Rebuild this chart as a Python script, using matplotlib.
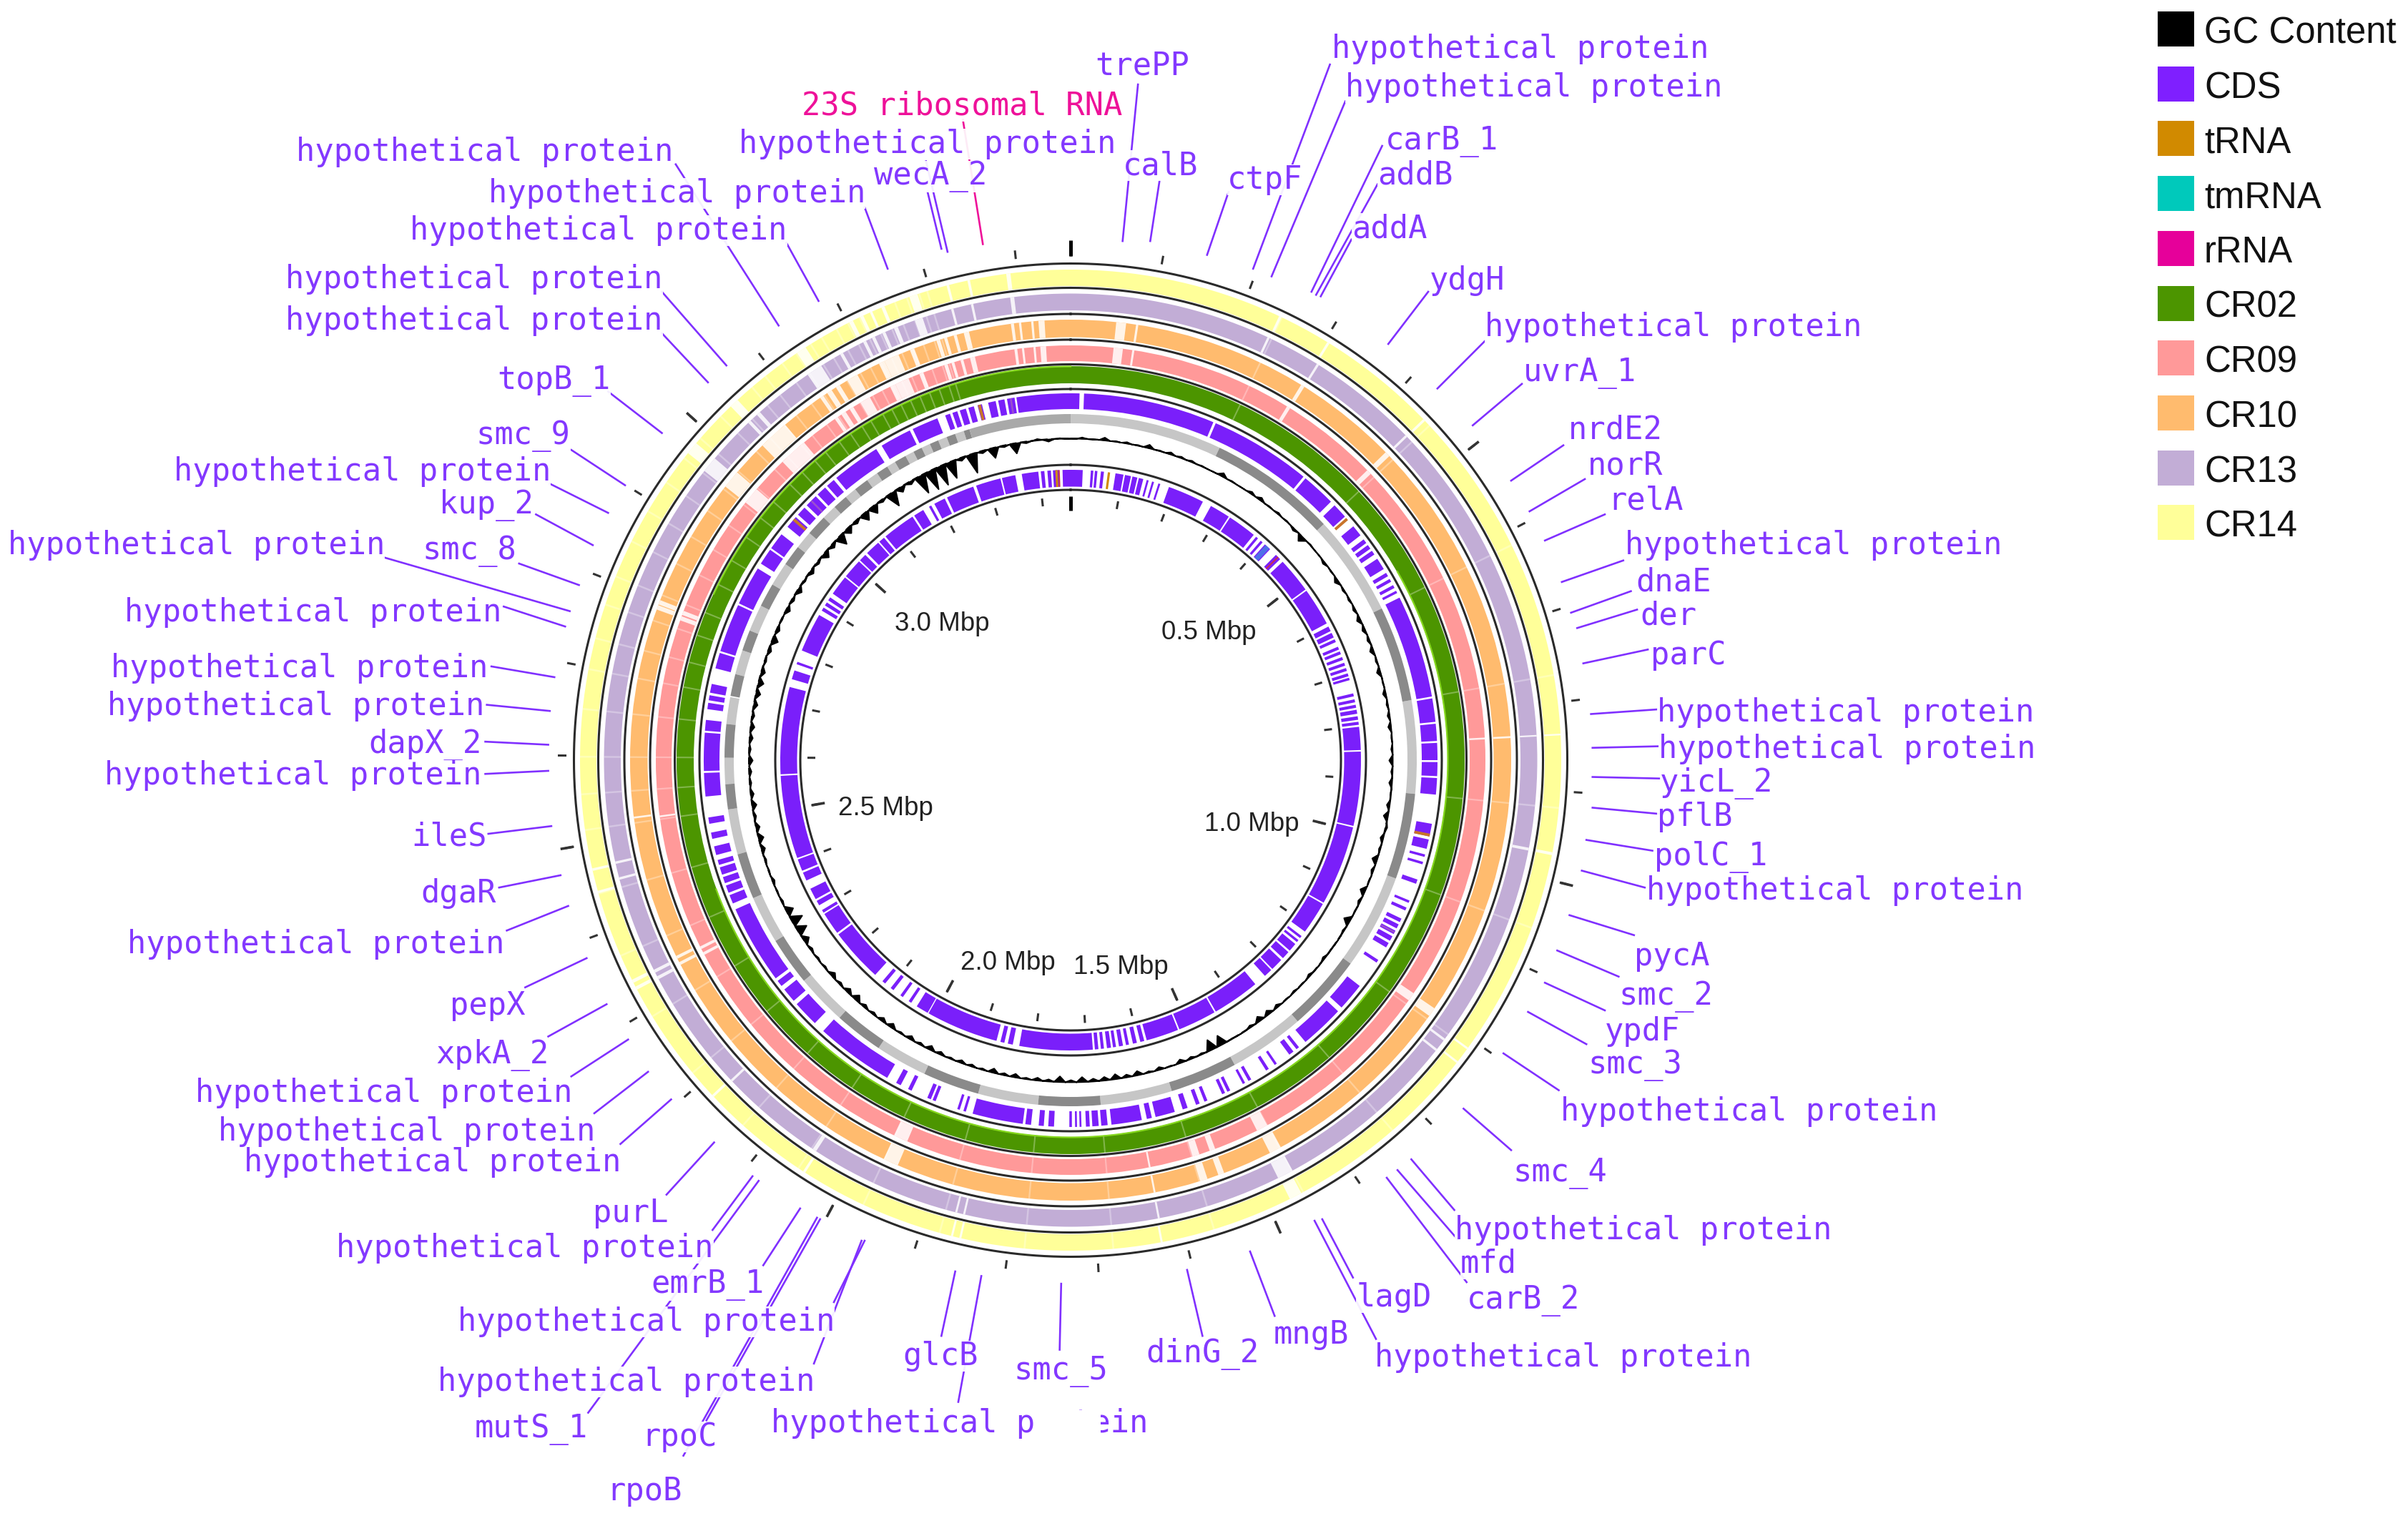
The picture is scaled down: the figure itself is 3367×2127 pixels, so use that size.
import numpy as np
import matplotlib
matplotlib.use('Agg')
import matplotlib.pyplot as plt
from matplotlib.patches import Rectangle

W, H = 3367, 2127
SHRINK = 3367 / 1568  # label layout below
CX, CY = 1497, 1063
RMAX = 800

GENOME_MBP = 3.46

legend_names = ['GC Content', 'CDS', 'tRNA', 'tmRNA', 'rRNA', 'CR02', 'CR09', 'CR10', 'CR13', 'CR14']
legend_colors = ['#000000', '#7f1fff', '#d18a00', '#00c9bb', '#e6009a', '#4c9500', '#ff9999', '#ffbb6e', '#c2add6', '#ffff99']

mbp_labels = ['0.5 Mbp', '1.0 Mbp', '1.5 Mbp', '2.0 Mbp', '2.5 Mbp', '3.0 Mbp']
mbp_xy = [(1690, 885), (1750, 1152), (1567, 1353), (1409, 1346), (1238, 1130), (1317, 872)]

# ring gaps: (centre deg, width deg)
cr14_gaps = [(25.3, .3), (31.7, .3), (46.1, .3), (87, .2), (101, .35), (126, .25), (128, .25), (152.7, 1.5), (169.3, .25),
             (193, .25), (194, .25), (212.9, .3), (226.8, .3), (242.3, .4), (243.2, .4), (254.4, .3), (257.1, .3),
             (309.5, 1.5), (316.7, 1.1), (326.7, 1.2), (333.4, .5), (334.8, .4), (336, .3), (337.5, .4), (341.3, 1),
             (345.5, .3), (348, .3), (352.7, .5)]
cr13_gaps = [(25.1, .3), (32, .3), (46, .3), (87, .2), (101, .35), (126.8, .3), (128.4, .3), (152.6, 2), (169.1, .25),
             (193.2, .25), (194.2, .25), (213.3, .5), (226.6, .3), (242.2, .4), (243.1, .4), (255.3, .3), (257.3, .3),
             (309.3, 2), (316.5, .4), (318, .5), (326.7, 2), (330.6, .4), (333.8, .4), (335, .4), (336.4, .4), (338, .5),
             (341, 1), (345.3, .3), (347.8, .3), (352.8, .5)]
cr10_gaps = [(6.6, 1.3), (8.7, .3), (31.8, .5), (46, .7), (87, .25), (124.9, 1.2), (152.3, 1.6), (160, .8), (162.4, 1),
             (169, .25), (204.1, 2), (242.5, .4), (243.4, .4), (262.5, .25), (290.3, .6), (291, .6),
             (309.6, 2.4), (317.6, 4), (325.6, .5), (326.8, .7), (328.1, .6), (330.3, 1.5), (334.6, .8), (336, 2),
             (338.9, .6), (342.5, .5), (343.5, .4), (344.8, .4), (346.3, .7), (352.4, .4), (353.4, .3), (355, .3), (356.2, .8)]
cr09_gaps = [(6.6, 1.3), (8.7, .3), (31.7, .5), (46, .7), (87, .25), (124.8, 1.2), (152.5, 1.6), (160, .8), (162.4, 1),
             (169, .25), (204.2, 2), (242.2, .4), (243.1, .4), (262.2, .25), (290, .6), (290.8, .6),
             (309.6, 2.4), (318, 4), (325.6, .5), (326.8, .7), (328.1, .6), (330.3, 1.5), (334.6, .8), (336, 2),
             (338.9, .6), (342.5, .5), (343.5, .4), (344.8, .4), (346.3, .7), (352.4, .4), (353.4, .3), (355, .3), (356.2, .8)]

# genes on the outer CDS ring (start deg, end deg)
cds_outer = [(0, 1.4), (2.1, 22.9), (23.3, 39.4), (39.8, 45.2), (46, 48.4), (50.4, 52.2), (53, 53.7), (54.1, 54.8), (55.2, 55.9),
             (56.7, 58.6), (59.3, 59.9), (60.4, 60.9), (61.5, 62), (62.5, 62.9), (63.7, 80), (80.3, 84), (84.3, 87), (87.3, 90),
             (90.3, 92.5), (92.8, 95.4), (100, 102), (102.5, 104), (104.9, 105.3), (106.1, 106.5), (109, 109.7), (112.5, 112.9),
             (113.7, 114.2), (115.6, 116.2), (116.6, 117.3), (117.7, 118.3), (118.7, 119.5), (119.9, 120.7), (123, 123.5),
             (128, 132.4), (133.2, 140.2), (141.5, 142), (142.6, 143.4), (145.8, 146.2), (147.3, 147.8), (150.5, 151), (151.6, 152),
             (154.2, 154.7), (155.1, 155.6), (158.1, 158.6), (159.4, 160), (161.4, 162.2), (163.5, 166.6), (167.2, 168), (168.8, 173.6),
             (174.2, 175.2), (175.6, 176.6), (177, 177.6), (178.3, 178.6), (179, 179.3), (179.8, 180.2), (182.6, 183.5), (184.2, 185),
             (186.2, 187.1), (187.5, 195.5), (196.6, 197), (197.6, 198), (201.6, 202.1), (202.4, 203), (205.7, 206.3), (207.6, 208.4),
             (210, 222.4), (224.2, 228.3), (229, 231.3), (232, 233), (233.5, 246), (247, 248.4), (248.8, 250), (250.4, 251.4), (251.8, 253),
             (253.4, 254.2), (255, 256.4), (257.6, 258.6), (260, 261), (264.3, 268), (268.3, 274.3), (274.6, 276.3), (278, 279), (279.4, 280.2),
             (280.6, 282), (284.5, 287), (287.3, 295), (295.3, 301.5), (302.4, 305), (305.3, 308), (309.5, 311.5), (312, 313.5), (314, 316),
             (316.4, 318), (318.4, 319.8), (320.3, 328), (329, 334), (334.5, 338.7), (340, 340.8), (341.2, 342), (342.4, 343.4), (343.8, 344.7),
             (345.3, 346), (347, 348.2), (348.6, 349.6), (350, 351.2), (351.5, 360)]
trna_outer = [48.9, 101.8, 311, 345.6]
cds_outer_faint = [315, 350.6, 118]

# genes on the inner CDS ring
cds_inner = [(0, 2.4), (4, 4.5), (4.8, 5.3), (6, 6.6), (8.9, 10.5), (10.8, 12), (12.3, 13.3), (13.6, 14.5), (15.2, 15.6), (16.3, 16.7),
             (17.6, 18), (19.8, 27.1), (28.9, 33), (33.3, 39.1), (39.7, 40.2), (40.9, 41.4), (42, 43.4), (45, 46.2), (46.9, 54), (54.3, 61.9),
             (62.6, 63.6), (64, 65), (65.4, 66), (67, 67.6), (68, 68.6), (69.2, 69.8), (70.4, 71), (71.5, 72.1), (72.6, 73.2), (73.5, 74),
             (76.7, 77.3), (77.9, 78.5), (79, 79.6), (80, 80.8), (81.3, 82), (82.4, 83), (83.4, 88), (88.3, 103.1), (103.4, 119.4), (119.7, 126.2),
             (127.3, 127.8), (128.3, 128.8), (129.3, 131), (131.4, 133), (133.5, 136), (136.3, 138), (140.5, 150), (150.3, 158), (158.3, 164.8),
             (165.3, 166.1), (166.8, 167.6), (168.4, 169), (169.6, 170.4), (171, 171.6), (172, 172.8), (173.4, 174), (174.5, 175.2), (175.6, 190.2),
             (191.5, 192.5), (193.2, 194), (194.8, 209.3), (209.5, 212), (213.3, 213.9), (215.3, 215.9), (217.6, 218.3), (219.7, 220.4),
             (222.3, 233.1), (233.5, 238), (238.3, 238.9), (240, 241), (241.4, 243.7), (245.5, 247.2), (247.6, 250), (250.3, 266.9), (267.2, 284.6),
             (286.2, 288), (289.3, 289.8), (292.2, 300), (301, 301.7), (302.2, 302.9), (303.4, 304.1), (305, 309), (309.3, 313.2), (313.5, 315),
             (315.5, 318.5), (318.8, 320), (320.4, 327), (327.4, 329.5), (330.8, 331.3), (332, 334.3), (334.8, 340.4), (341, 346), (346.3, 349),
             (350.3, 353.6), (354.1, 354.8), (355.4, 356.1), (356.5, 357.7), (358.4, 360)]
trna_inner = [7.6, 357.2]
rrna_inner = [45.6, 357.7]
tmrna_inner = [42.7]

# contig bar, changes at these angles
contigs_light = [(0, 25.5), (47, 64), (80, 95.6), (110, 126), (139, 151.7), (163, 175), (185.4, 195.5), (205, 213.7), (221.9, 230.4),
                 (238.5, 246.5), (254.2, 261.8), (266, 270.4), (276, 280.5), (284.4, 288.5), (292, 296.5), (300.5, 304.5), (308, 311),
                 (314.5, 317), (319.5, 321.5), (324, 326), (328, 329.5), (331.5, 333), (334.5, 336), (337.5, 339), (340.5, 342)]
contigs_dark = [(25.5, 47), (64, 80), (95.6, 110), (126, 139), (151.7, 163), (175, 185.4), (195.5, 205), (213.7, 221.9), (230.4, 238.5),
                (246.5, 254.2), (261.8, 266), (270.4, 276), (280.7, 284.4), (288.5, 292), (296.5, 300.5), (304.5, 308), (311, 314.5),
                (317, 319.5), (321.5, 324), (326, 328), (329.5, 331.5), (333, 334.5), (336, 337.5), (339, 340.5), (342, 343)]
contigs_blur = [(343, 360)]

# GC trace, one value every 2 degrees
gc_values = [0, 2, 0, 4, 1, 2, 1, 5, 1, 3, 2, 2, 1, 0, 5, 1, 0, 3, 4, 1, 2, 1, -3, -8, 1, 0, -3, -1, -5, -2, -2, -3, -5, -4, -3, -5, -2, -5, -1, -4,
             -2, -3, -4, -1, -2, -5, -2, -4, -1, -4, -6, 2, -4, -2, -7, -3, -1, -7, -3, -1, -9, -2, 0, -1, -3, 0, -3, -1, -2, -1, -4, -6, -7, -3, 0, -1,
             -14, -15, -2, -3, -5, -1, -4, -2, -6, -4, -7, -5, -4, -7, -3, -8, -3, -4, -2, -5, -3, -6, -2, -3, -4, -2, -4, -6, -3, -5, -2, -6, -5, -3,
             -4, -8, -6, -3, -6, -2, -2, -3, -8, -14, -16, -10, -2, -1, -3, -1, -2, -5, -7, -5, -3, -6, -4, -2, -3, -5, -2, -4, -5, -3, -5, -6, -7, -5,
             -2, -4, -8, -4, -1, -5, -3, -6, -2, -5, -3, -8, -5, -14, -8, -4, -11, -11, -3, -20, -7, -4, -26, -28, -28, -24, -4, -27, -3, -14, -2, -14,
             -2, 2, -3, 1]

gene_labels = [
    'hypothetical protein', 'hypothetical protein', 'hypothetical protein', 'hypothetical protein', 'hypothetical protein',
    'topB_1', 'smc_9', 'hypothetical protein', 'kup_2', 'hypothetical protein', 'smc_8', 'hypothetical protein',
    'hypothetical protein', 'hypothetical protein', 'dapX_2', 'hypothetical protein', 'ileS', 'dgaR', 'hypothetical protein',
    'pepX', 'xpkA_2', 'hypothetical protein', 'hypothetical protein', 'hypothetical protein', 'purL', 'hypothetical protein',
    'emrB_1', 'hypothetical protein', 'hypothetical protein', 'mutS_1', 'rpoC', 'rpoB', 'glcB', 'hypothetical protein', 'smc_5',
    'dinG_2', 'mngB', 'lagD', 'hypothetical protein', 'carB_2', 'mfd', 'hypothetical protein', 'smc_4', 'hypothetical protein',
    'smc_3', 'ypdF', 'smc_2', 'pycA', 'hypothetical protein', 'polC_1', 'pflB', 'yicL_2', 'hypothetical protein',
    'hypothetical protein', 'parC', 'der', 'dnaE', 'hypothetical protein', 'relA', 'norR', 'nrdE2', 'uvrA_1',
    'hypothetical protein', 'ydgH', 'addA', 'addB', 'carB_1', 'ctpF', 'hypothetical protein', 'hypothetical protein',
    'calB', 'trePP', 'hypothetical protein', 'wecA_2']

# left edge and middle of each gene label
label_xy = [
    (193, 99), (318, 126), (267, 150), (186, 182), (186, 209), (324, 248), (310, 284), (113, 307), (286, 329), (5, 355), (275, 359),
    (81, 399), (72, 435), (70, 460), (240, 485), (68, 505), (268, 545), (274, 582), (83, 615), (293, 655), (284, 687), (127, 712),
    (142, 737), (159, 757), (386, 790), (219, 813), (424, 837), (298, 861), (285, 900), (309, 931), (418, 936), (395, 971), (588, 883),
    (502, 927), (660, 893), (746, 882), (829, 869), (883, 845), (895, 884), (955, 847), (951, 823), (947, 801), (985, 764), (1016, 724),
    (1034, 694), (1045, 672), (1054, 649), (1064, 623), (1072, 580), (1077, 558), (1079, 532), (1081, 510), (1080, 488), (1079, 464),
    (1075, 427), (1068, 401), (1065, 379), (1058, 355), (1047, 326), (1034, 303), (1021, 280), (992, 243), (967, 213), (931, 183),
    (880, 149), (897, 114), (902, 92), (799, 117), (867, 32), (876, 57), (731, 108), (713, 43), (481, 94), (569, 115)]

# leader from near the label to near the ring
leader_xy = [
    (440, 107, 507, 212), (563, 135, 578, 175), (512, 158, 533, 196), (431, 190, 473, 238), (431, 217, 461, 249), (396, 255, 431, 282),
    (372, 293, 407, 316), (358, 315, 396, 334), (349, 335, 386, 355), (250, 363, 371, 398), (338, 367, 377, 381), (328, 395, 368, 408),
    (320, 434, 361, 441), (317, 459, 358, 463), (316, 483, 357, 485), (316, 504, 357, 502), (318, 543, 359, 538), (325, 578, 365, 570),
    (330, 606, 370, 590), (342, 643, 382, 624), (357, 675, 395, 654), (372, 701, 409, 677), (387, 725, 422, 698), (404, 745, 437, 716),
    (434, 778, 465, 744), (464, 801, 490, 766), (497, 824, 521, 787), (543, 848, 563, 808), (530, 888, 561, 808), (383, 920, 494, 769),
    (460, 925, 534, 794), (445, 948, 532, 793), (613, 870, 622, 828), (624, 913, 639, 831), (690, 879, 691, 836), (783, 870, 773, 827),
    (830, 857, 814, 815), (881, 832, 861, 794), (896, 872, 856, 795), (955, 835, 903, 767), (949, 807, 910, 762), (947, 788, 919, 755),
    (984, 749, 953, 722), (1015, 710, 979, 686), (1033, 680, 995, 659), (1045, 658, 1006, 640), (1054, 636, 1014, 619), (1064, 609, 1022, 596),
    (1071, 578, 1030, 567), (1076, 554, 1033, 547), (1080, 530, 1037, 526), (1081, 507, 1037, 506), (1080, 486, 1037, 487), (1079, 462, 1036, 465),
    (1073, 423, 1031, 432), (1066, 397, 1027, 409), (1062, 385, 1023, 399), (1057, 365, 1017, 379), (1045, 335, 1006, 352), (1032, 312, 996, 333),
    (1018, 290, 984, 313), (991, 250, 959, 277), (967, 222, 936, 253), (930, 190, 904, 224), (880, 156, 860, 193), (897, 120, 857, 192),
    (900, 95, 854, 190), (800, 125, 786, 166), (866, 42, 816, 175), (876, 66, 828, 180), (755, 118, 749, 157), (741, 55, 731, 157),
    (603, 105, 617, 164), (604, 125, 613, 162)]

plt.rcParams['font.family'] = ['Liberation Sans', 'DejaVu Sans']

fig = plt.figure(figsize=(W / 100, H / 100), dpi=100, facecolor='white')
ax = fig.add_axes([(CX - RMAX) / W, (H - CY - RMAX) / H, 2 * RMAX / W, 2 * RMAX / H], projection='polar')
ax.set_theta_zero_location('N')
ax.set_theta_direction(-1)
ax.set_rlim(0, RMAX)
ax.set_axis_off()


def rad(d):
    return np.deg2rad(np.asarray(d, dtype=float))


def ring(r0, r1, color):
    ax.bar(0, r1 - r0, width=2 * np.pi, bottom=r0, color=color, linewidth=0, zorder=1)


def gaps(r0, r1, items):
    ax.bar(rad([g[0] for g in items]), r1 - r0, width=rad([g[1] for g in items]), bottom=r0,
           color='white', linewidth=0, zorder=2, alpha=.85)


def arcs(r0, r1, items, color):
    starts = rad([s[0] for s in items])
    ends = rad([s[1] for s in items])
    ax.bar((starts + ends) / 2, r1 - r0, width=ends - starts, bottom=r0, color=color, linewidth=0, zorder=2)


def stripes(r0, r1, items, color, w=.45):
    ax.bar(rad(items), r1 - r0, width=np.deg2rad(w), bottom=r0, color=color, linewidth=0, zorder=3)


ring(663, 686, legend_colors[9])
gaps(663, 686, cr14_gaps)
ring(629, 652.5, legend_colors[8])
gaps(629, 652.5, cr13_gaps)
ring(591.5, 616, legend_colors[7])
gaps(591.5, 616, cr10_gaps)
ring(558, 580, legend_colors[6])
gaps(558, 580, cr09_gaps)
ring(527, 551, legend_colors[5])

# faint lines on the comparison rings where the contigs change
contig_edges = [a for seg in contigs_dark for a in seg]
for r0, r1 in [(527, 551), (558, 580), (591.5, 616), (629, 652.5), (663, 686)]:
    ax.bar(rad(contig_edges), r1 - r0, width=np.deg2rad(.22), bottom=r0, color='white', alpha=.3, linewidth=0, zorder=2)

# the lighter rim on the green ring
rim_in = np.linspace(rad(60), rad(250), 200)
rim_out = np.linspace(rad(295), rad(360), 100)
ax.plot(rim_in, np.full(200, 527.5), color='#86d81e', lw=1.6, zorder=3)
ax.plot(rim_out, np.full(100, 550.5), color='#86d81e', lw=1.6, zorder=3)

arcs(491, 513, cds_outer, '#7a1ffa')
stripes(491, 513, trna_outer, '#c8742a')
stripes(491, 513, cds_outer_faint, '#9a4fd0', .3)
arcs(382.5, 406, cds_inner, '#7a1ffa')
stripes(382.5, 406, trna_inner, '#d18a00')
stripes(382.5, 406, rrna_inner, '#c9304f', .3)
stripes(382.5, 406, tmrna_inner, '#4f6fe8', 1.0)

arcs(471, 484, contigs_light, '#c6c6c6')
arcs(471, 484, contigs_dark, '#8a8a8a')
arcs(471, 484, contigs_blur, '#a9a9a9')

# each GC value is a narrow spike off the base circle
gc_deg = np.arange(0, 360, 2)
gc_theta = rad(np.column_stack([gc_deg - 1, gc_deg, gc_deg + 1]).ravel())
gc_trace = np.column_stack([np.zeros(180), gc_values, np.zeros(180)]).ravel()
ax.fill_between(gc_theta, 450, 450 + gc_trace, color='black', linewidth=1.4, zorder=3)
ax.plot(np.linspace(0, 2 * np.pi, 1441), np.full(1441, 450), color='black', lw=1.4, ls=(0, (5, 2.5)), zorder=3)

for r in [694.5, 660.5, 624, 588, 553.5, 519, 413, 378]:
    ax.plot(np.linspace(0, 2 * np.pi, 1441), np.full(1441, r), color='#2a2a2a', lw=2.2, zorder=4)

# ticks, every 0.1 Mbp
tick_mbp = np.arange(0, GENOME_MBP, .1)
tick_theta = tick_mbp / GENOME_MBP * 2 * np.pi
major_theta = tick_theta[::5]
ax.vlines(tick_theta, 357, 368, color='#333333', lw=2.2, zorder=4)
ax.vlines(major_theta, 349, 367, color='#333333', lw=2.6, zorder=4)
ax.vlines(tick_theta, 705, 717, color='#333333', lw=2.2, zorder=4)
ax.vlines(major_theta, 706, 724, color='#333333', lw=2.6, zorder=4)
ax.vlines([0], 349, 369, color='black', lw=3.6, zorder=5)
ax.vlines([0], 705, 727, color='black', lw=3.6, zorder=5)

# overlay in picture pixels for the labels and the legend
top = fig.add_axes([0, 0, 1, 1], facecolor='none')
top.set_xlim(0, W)
top.set_ylim(H, 0)
top.set_axis_off()

mask = dict(facecolor='white', edgecolor='none', pad=0, alpha=.92)
for (x1, y1, x2, y2) in leader_xy:
    top.plot([x1 * SHRINK, x2 * SHRINK], [y1 * SHRINK, y2 * SHRINK], color='#8030ff', lw=1.9, zorder=2)
for name, (x, y) in zip(gene_labels, label_xy):
    top.text(x * SHRINK, y * SHRINK, name, family='DejaVu Sans Mono', fontsize=31.5, color='#8338ff',
             ha='left', va='center', zorder=3, bbox=mask)

top.plot([627 * SHRINK, 640 * SHRINK], [78 * SHRINK, 159 * SHRINK], color='#ee1199', lw=1.9, zorder=2)
top.text(522 * SHRINK, 69 * SHRINK, '23S ribosomal RNA', family='DejaVu Sans Mono', fontsize=31.5, color='#ee1199',
         ha='left', va='center', zorder=3, bbox=mask)

# white patch that hides part of one label in the source
top.add_patch(Rectangle((1453, 1972), 86, 44, facecolor='white', edgecolor='none', zorder=4))

for name, (x, y) in zip(mbp_labels, mbp_xy):
    top.text(x, y, name, fontsize=26.5, color='#222222', ha='center', va='center')

for i, (name, col) in enumerate(zip(legend_names, legend_colors)):
    y = 16 + 76.7 * i
    top.add_patch(Rectangle((3017, y), 51, 49, facecolor=col, edgecolor='none'))
    top.text(3082, y + 31, name, fontsize=36.6, color='#111111', ha='left', va='center')

fig.savefig('out.png', dpi=100)
